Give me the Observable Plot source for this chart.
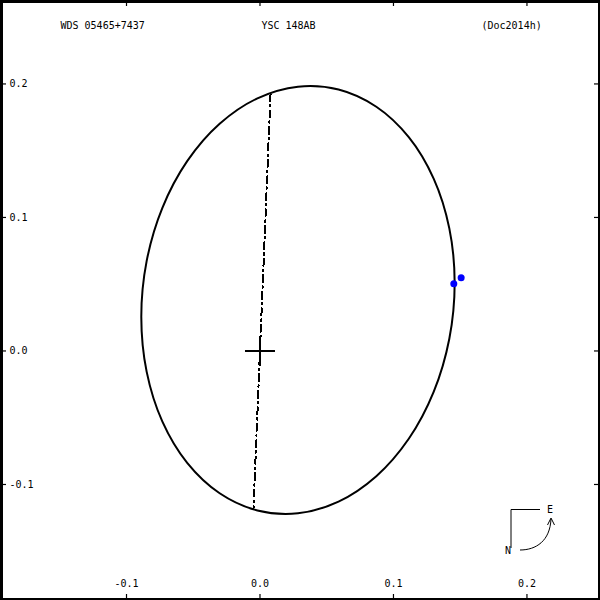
<!DOCTYPE html>
<html>
<head>
<meta charset="utf-8">
<script src="https://cdn.jsdelivr.net/npm/d3@7"></script>
<script src="https://cdn.jsdelivr.net/npm/@observablehq/plot@0.6"></script>
<style>
  body { margin: 0; background: #fff; }
  #chart svg { display: block; }
</style>
</head>
<body>
<div id="chart"></div>
<script>
// ---- data (arcsec) ----
const titleLeft = "WDS 05465+7437";
const titleMid = "YSC 148AB";
const titleRight = "(Doc2014h)";

const xTicks = [-0.1, 0.0, 0.1, 0.2];
const xTickLabels = ["-0.1", "0.0", "0.1", "0.2"];
const yTicks = [0.2, 0.1, 0.0, -0.1];
const yTickLabels = ["0.2", "0.1", "0.0", "-0.1"];

// orbit ellipse, points (every ~15 degrees of the orbit outline)
const orbitX = [0.14584, 0.14184, 0.13011, 0.11146, 0.08715, 0.05884, 0.02846, -0.00192,
  -0.03023, -0.05454, -0.07319, -0.08492, -0.08892, -0.08492, -0.07319, -0.05454,
  -0.03023, -0.00192, 0.02846, 0.05884, 0.08715, 0.11146, 0.13011, 0.14184];
const orbitY = [0.05093, 0.00915, -0.03066, -0.06578, -0.09380, -0.11283, -0.12158, -0.11943,
  -0.10654, -0.08378, -0.05272, -0.01545, 0.02547, 0.06725, 0.10706, 0.14218,
  0.17020, 0.18923, 0.19798, 0.19583, 0.18294, 0.16018, 0.12912, 0.09185];

// line of nodes
const nodesX = [0.0079, -0.0049];
const nodesY = [0.1925, -0.1187];

// observations
const obsX = [0.1452, 0.1507];
const obsY = [0.0503, 0.0548];

// primary
const primaryX = [0];
const primaryY = [0];

// ---- build ----
const orbit = orbitX.map((x, i) => ({x, y: orbitY[i]}));
const nodes = nodesX.map((x, i) => ({x, y: nodesY[i]}));
const obs = obsX.map((x, i) => ({x, y: obsY[i]}));
const primary = primaryX.map((x, i) => ({x, y: primaryY[i]}));

const crossSymbol = {
  draw(ctx, size) {
    const r = Math.sqrt(size / Math.PI);
    ctx.moveTo(-r, 0); ctx.lineTo(r, 0);
    ctx.moveTo(0, -r); ctx.lineTo(0, r);
  }
};

const chart = Plot.plot({
  width: 600,
  height: 600,
  margin: 0,
  style: {fontFamily: "'DejaVu Sans Mono', monospace", fontSize: "10px", color: "black", background: "white"},
  x: {domain: [-0.1944, 0.2551], axis: null},
  y: {domain: [-0.1869, 0.2625], axis: null},
  marks: [
    Plot.frame({stroke: "black", strokeWidth: 5}),
    // ticks on all four edges
    Plot.tickX(xTicks, {x: d => d, insetBottom: 594, stroke: "black", strokeWidth: 1.2}),
    Plot.tickX(xTicks, {x: d => d, insetTop: 594, stroke: "black", strokeWidth: 1.2}),
    Plot.tickY(yTicks, {y: d => d, insetRight: 594, stroke: "black", strokeWidth: 1.2}),
    Plot.tickY(yTicks, {y: d => d, insetLeft: 594, stroke: "black", strokeWidth: 1.2}),
    // tick labels
    Plot.text(xTicks, {x: d => d, text: (d, i) => xTickLabels[i], frameAnchor: "bottom", lineAnchor: "middle", dy: -17, fill: "black"}),
    Plot.text(yTicks, {y: d => d, text: (d, i) => yTickLabels[i], frameAnchor: "left", dx: 9, textAnchor: "start", fill: "black"}),
    // titles
    Plot.text([titleLeft], {text: d => d, frameAnchor: "top-left", lineAnchor: "middle", dx: 60, dy: 25, textAnchor: "start", fill: "black"}),
    Plot.text([titleMid], {text: d => d, frameAnchor: "top-left", lineAnchor: "middle", dx: 288, dy: 25, textAnchor: "middle", fill: "black"}),
    Plot.text([titleRight], {text: d => d, frameAnchor: "top-left", lineAnchor: "middle", dx: 481, dy: 25, textAnchor: "start", fill: "black"}),
    // orbit
    Plot.line(orbit, {x: "x", y: "y", curve: "catmull-rom-closed", stroke: "black", strokeWidth: 2}),
    // line of nodes
    Plot.line(nodes, {x: "x", y: "y", stroke: "black", strokeWidth: 2, strokeDasharray: "7,4,1.5,4", shapeRendering: "crispEdges"}),
    // primary
    Plot.dot(primary, {x: "x", y: "y", r: 15, symbol: crossSymbol, stroke: "black", strokeWidth: 2, fill: "none"}),
    // observations
    Plot.dot(obs, {x: "x", y: "y", r: 3.5, fill: "#0000ff", stroke: "none"})
  ]
});

// compass (N / E orientation) decoration
const svg = d3.select(chart);
const g = svg.append("g").attr("fill", "none").attr("stroke", "black").attr("stroke-width", 1);
g.append("path").attr("d", "M511,548 L511,509.5 L540,509.5");
g.append("path").attr("d", "M520,550 C536,550 550,541 551,519");
g.append("path").attr("d", "M547.5,525 L551,518 L554.5,525");
svg.append("text").attr("x", 550).attr("y", 509).attr("text-anchor", "middle").attr("dy", "0.35em").attr("fill", "black").text("E");
svg.append("text").attr("x", 508).attr("y", 550).attr("text-anchor", "middle").attr("dy", "0.35em").attr("fill", "black").text("N");

document.getElementById("chart").appendChild(chart);
</script>
</body>
</html>
